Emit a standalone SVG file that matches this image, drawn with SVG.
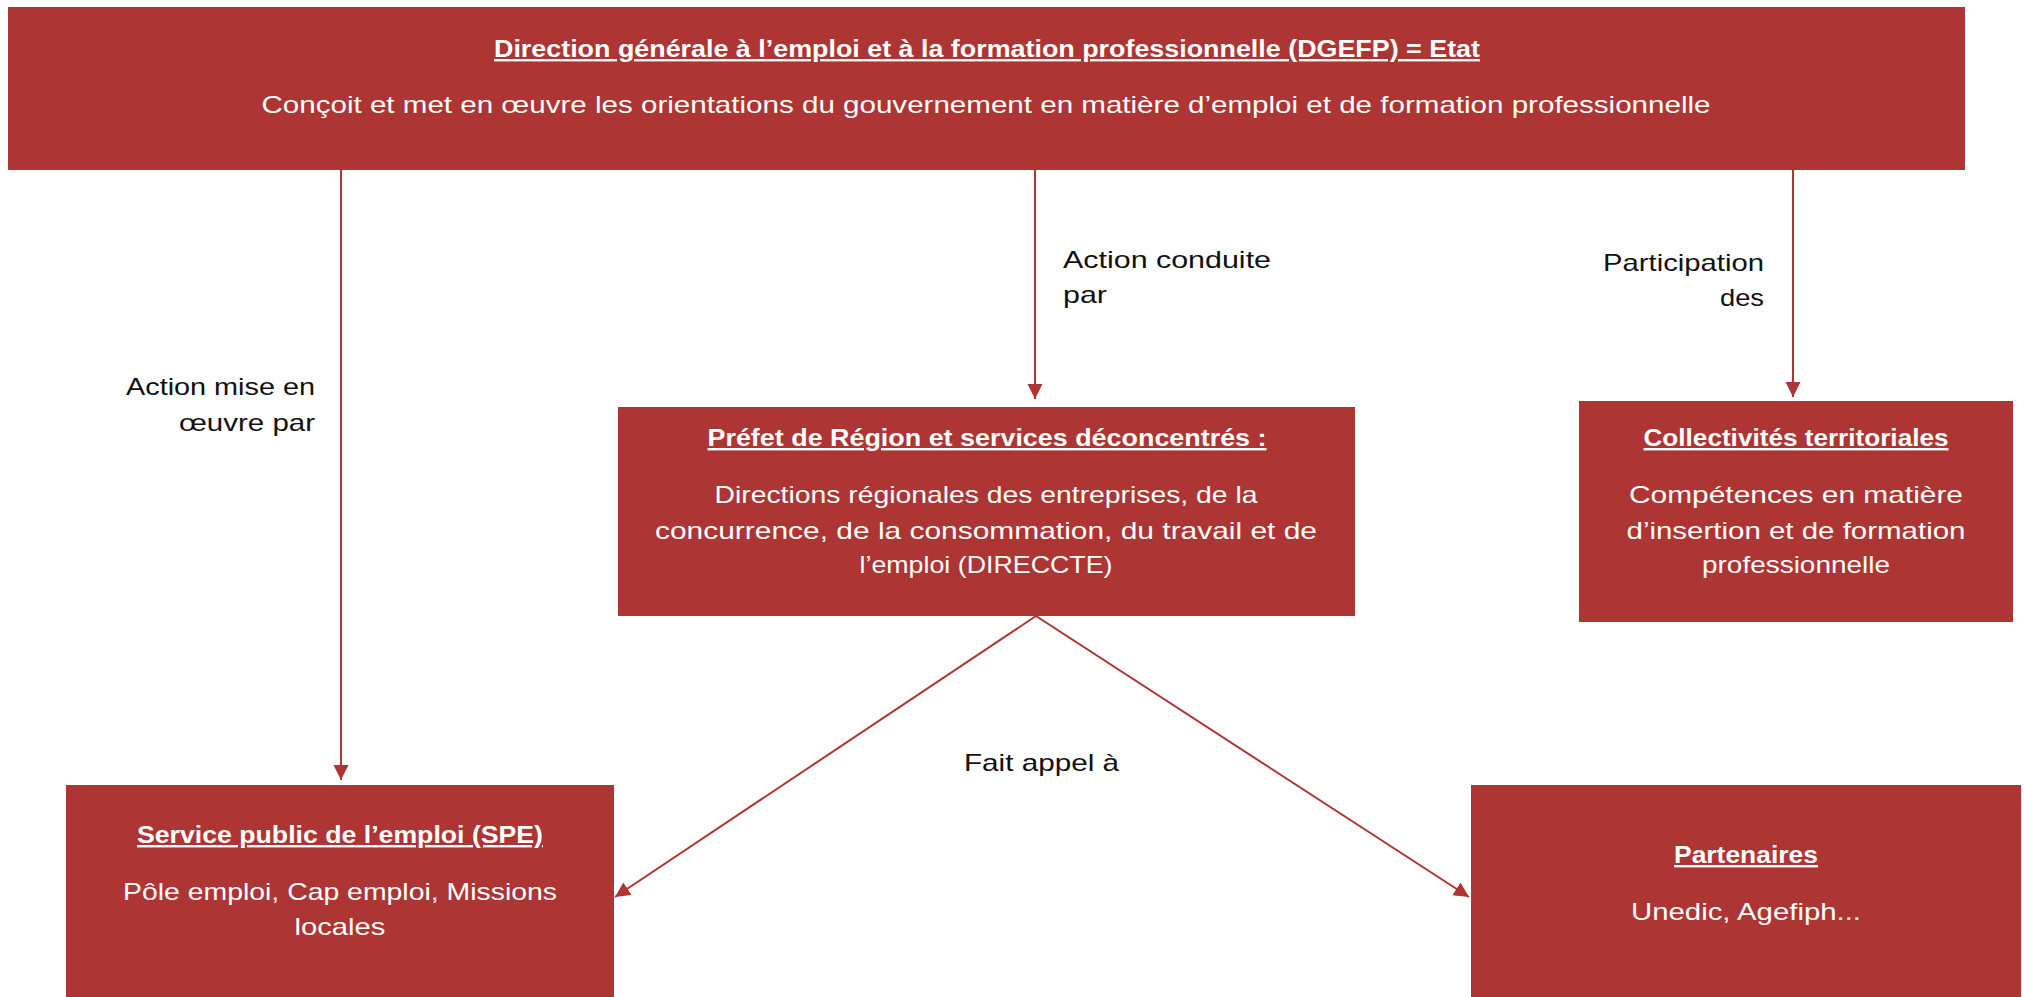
<svg xmlns="http://www.w3.org/2000/svg" width="2024" height="997" viewBox="0 0 2024 997">
<style>
.box{fill:#AD3533}
.t{font-family:"Liberation Sans",Arial,sans-serif;font-weight:bold;font-size:24px;fill:#fff;text-anchor:middle;text-decoration:underline}
.b{font-family:"Liberation Sans",Arial,sans-serif;font-size:24px;fill:#fff;text-anchor:middle}
.l{font-family:"Liberation Sans",Arial,sans-serif;font-size:24px;fill:#111}
.c{stroke:#AD3533;stroke-width:2;fill:none}
</style>
<defs>
<marker id="ah" markerUnits="userSpaceOnUse" markerWidth="16" markerHeight="16" refX="15" refY="7.5" orient="auto">
<path d="M0,0 L15,7.5 L0,15 Z" fill="#AD3533"/>
</marker>
</defs>
<rect width="2024" height="997" fill="#fff"/>
<g id="connectors">
<line class="c" x1="341" y1="170" x2="341" y2="780" marker-end="url(#ah)"/>
<line class="c" x1="1035" y1="170" x2="1035" y2="399" marker-end="url(#ah)"/>
<line class="c" x1="1793" y1="170" x2="1793" y2="397" marker-end="url(#ah)"/>
<line class="c" x1="1036" y1="616" x2="615" y2="897" marker-end="url(#ah)"/>
<line class="c" x1="1036" y1="616" x2="1469" y2="897" marker-end="url(#ah)"/>
<text class="l" x="315" y="395" text-anchor="end" textLength="189" lengthAdjust="spacingAndGlyphs">Action mise en</text>
<text class="l" x="315" y="431" text-anchor="end" textLength="136" lengthAdjust="spacingAndGlyphs">œuvre par</text>
<text class="l" x="1063" y="268" textLength="208" lengthAdjust="spacingAndGlyphs">Action conduite</text>
<text class="l" x="1063" y="303" textLength="44" lengthAdjust="spacingAndGlyphs">par</text>
<text class="l" x="1764" y="271" text-anchor="end" textLength="161" lengthAdjust="spacingAndGlyphs">Participation</text>
<text class="l" x="1764" y="306" text-anchor="end" textLength="44" lengthAdjust="spacingAndGlyphs">des</text>
<text class="l" x="964" y="771" textLength="155" lengthAdjust="spacingAndGlyphs">Fait appel à</text>
</g>
<g id="dgefp">
<rect class="box" x="8" y="7" width="1957" height="163"/>
<text class="t" x="987" y="57" textLength="986" lengthAdjust="spacingAndGlyphs">Direction générale à l’emploi et à la formation professionnelle (DGEFP) = Etat</text>
<text class="b" x="986" y="113" textLength="1449" lengthAdjust="spacingAndGlyphs">Conçoit et met en œuvre les orientations du gouvernement en matière d’emploi et de formation professionnelle</text>
</g>
<g id="prefet">
<rect class="box" x="618" y="407" width="737" height="209"/>
<text class="t" x="987" y="446" textLength="559" lengthAdjust="spacingAndGlyphs">Préfet de Région et services déconcentrés :</text>
<text class="b" x="986" y="503" textLength="543" lengthAdjust="spacingAndGlyphs">Directions régionales des entreprises, de la</text>
<text class="b" x="986" y="539" textLength="662" lengthAdjust="spacingAndGlyphs">concurrence, de la consommation, du travail et de</text>
<text class="b" x="986" y="573" textLength="253" lengthAdjust="spacingAndGlyphs">l’emploi (DIRECCTE)</text>
</g>
<g id="collectivites">
<rect class="box" x="1579" y="401" width="434" height="221"/>
<text class="t" x="1796" y="446" textLength="305" lengthAdjust="spacingAndGlyphs">Collectivités territoriales</text>
<text class="b" x="1796" y="503" textLength="334" lengthAdjust="spacingAndGlyphs">Compétences en matière</text>
<text class="b" x="1796" y="539" textLength="339" lengthAdjust="spacingAndGlyphs">d’insertion et de formation</text>
<text class="b" x="1796" y="573" textLength="188" lengthAdjust="spacingAndGlyphs">professionnelle</text>
</g>
<g id="spe">
<rect class="box" x="66" y="785" width="548" height="220"/>
<text class="t" x="340" y="843" textLength="406" lengthAdjust="spacingAndGlyphs">Service public de l’emploi (SPE)</text>
<text class="b" x="340" y="900" textLength="434" lengthAdjust="spacingAndGlyphs">Pôle emploi, Cap emploi, Missions</text>
<text class="b" x="340" y="935" textLength="91" lengthAdjust="spacingAndGlyphs">locales</text>
</g>
<g id="partenaires">
<rect class="box" x="1471" y="785" width="550" height="220"/>
<text class="t" x="1746" y="863" textLength="144" lengthAdjust="spacingAndGlyphs">Partenaires</text>
<text class="b" x="1746" y="920" textLength="230" lengthAdjust="spacingAndGlyphs">Unedic, Agefiph...</text>
</g>
</svg>
